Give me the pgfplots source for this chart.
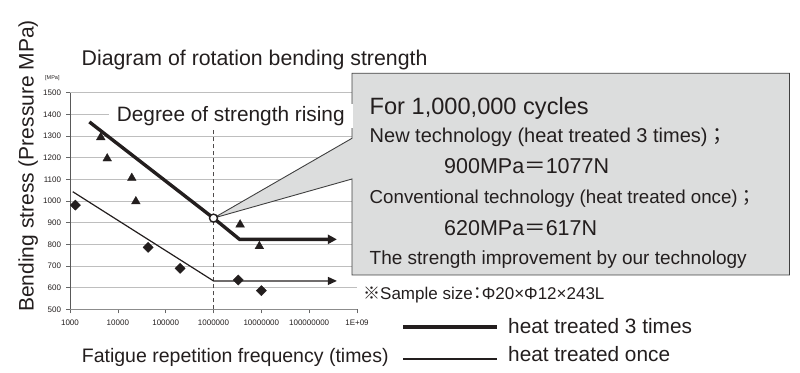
\documentclass[border=0pt]{standalone}
\usepackage{pgfplots}
\pgfplotsset{compat=1.18}
\usetikzlibrary{arrows.meta}
\usepackage{fontspec}
\setmainfont{Liberation Sans}
\newfontfamily\cjk{Noto Sans CJK JP}
\definecolor{boxgray}{RGB}{220,221,221}
\definecolor{gridgray}{RGB}{190,190,190}
\definecolor{ink}{RGB}{35,30,30}
\newcommand\fs[1]{\fontsize{#1bp}{#1bp}\selectfont}

\begin{document}
\begin{tikzpicture}[x=1bp,y=1bp, t/.style={anchor=base west, inner sep=0pt, text=ink}]
\useasboundingbox (0,0) rectangle (800,372);
\begin{axis}[
  at={(70bp,62.7bp)}, anchor=south west,
  scale only axis, width=287bp, height=216.6bp,
  xmode=log, log basis x=10,
  xmin=1000, xmax=1e9, ymin=500, ymax=1500,
  xtick={1e3,1e4,1e5,1e6,1e7,1e8,1e9},
  xticklabels={1000,10000,100000,1000000,10000000,100000000,1E+09},
  ytick={500,600,700,800,900,1000,1100,1200,1300,1400,1500},
  yticklabels={500,600,700,800,900,1000,1100,1200,1300,1400,1500},
  xminorticks=false, yminorticks=false,
  axis x line*=bottom, axis y line*=left,
  ymajorgrids, xmajorgrids=false,
  major grid style={gridgray, line width=0.9bp},
  tick align=outside, major tick length=4bp,
  tick style={black!60, line width=0.6bp},
  x axis line style={black!45, line width=0.8bp},
  y axis line style={black!65, line width=0.8bp},
  /pgf/number format/assume math mode=true,
  tick label style={font=\fs{8}, text=ink},
  xticklabel style={yshift=-3bp},
  yticklabel style={xshift=-1.5bp},
  clip=false,
]
% callout box
\draw[draw=black!75, fill=boxgray, line width=0.9bp]
  (axis cs:7.86e8,1589.6) -- (axis cs:7.86e8,1289.5) -- (axis cs:1e6,921)
  -- (axis cs:7.86e8,1101.6) -- (axis cs:7.86e8,658.4) -- (axis cs:1.1e18,658.4)
  -- (axis cs:1.1e18,1589.6) -- cycle;
% dashed reference line
\addplot[ink!80, line width=0.8bp, dash pattern=on 4bp off 3bp] coordinates {(1e6,500) (1e6,1330)};
% heat treated once
\addplot[ink, line width=1.2bp, -{Triangle[length=9bp,width=8bp]}] coordinates {(1140,1043) (1e6,631) (3.8e8,631)};
% heat treated 3 times
\addplot[ink, line width=3.4bp, -{Triangle[length=9bp,width=9bp]}] coordinates {(2540,1365) (1e6,921) (3.5e6,823) (3.8e8,823)};
% triangles (3 times)
\addplot[only marks, mark=triangle*, mark size=5bp, ink] coordinates {(4400,1294) (6000,1196) (19600,1106) (23800,998) (3.6e6,891) (9.1e6,791)};
% diamonds (once)
\addplot[only marks, mark=square*, mark size=3.6bp, mark options={rotate=45}, ink] coordinates {(1300,981) (43000,786) (2e5,689) (3.3e6,635) (1e7,586)};
% circle
\addplot[only marks, mark=*, mark size=4bp, mark options={fill=white, draw=ink, line width=1.4bp}] coordinates {(1e6,921)};
\end{axis}

\node[t, font=\fs{21.3}] at (81.5,307) {Diagram of rotation bending strength};
\node[t, rotate=90, font=\fs{21}] at (33.5,60) {Bending stress (Pressure MPa)};
\node[t, font=\fs{5.5}] at (45,293) {[MPa]};
\node[anchor=base west, fill=white, inner xsep=8bp, inner ysep=2.5bp, text=ink, font=\fs{20.8}] at (108.7,250.5) {Degree of strength rising};

\node[t, font=\fs{23.6}] at (369.5,258) {For 1,000,000 cycles};
\node[t, font=\fs{20}] at (369.5,229.3) {New technology (heat treated 3 times){\cjk ；}};
\node[t, font=\fs{21.5}] at (444,198.7) {900MPa{\cjk ＝}1077N};
\node[t, font=\fs{18.7}] at (369.5,168.7) {Conventional technology (heat treated once){\cjk ；}};
\node[t, font=\fs{21.5}] at (444,137) {620MPa{\cjk ＝}617N};
\node[t, font=\fs{19}] at (369.5,107.7) {The strength improvement by our technology};

\node[t, font=\fs{17}] at (363,73) {{\cjk ※}Sample size\kern-4bp{\cjk ：}\kern-4bp Φ20×Φ12×243L};

\node[t, font=\fs{19.5}] at (81.7,10) {Fatigue repetition frequency (times)};

\draw[ink, line width=4bp] (403,44.7) -- (497,44.7);
\node[t, font=\fs{20.8}] at (508,38.7) {heat treated 3 times};
\draw[ink, line width=1.3bp] (403,13) -- (497,13);
\node[t, font=\fs{20.8}] at (508,10.3) {heat treated once};
\end{tikzpicture}
\end{document}
